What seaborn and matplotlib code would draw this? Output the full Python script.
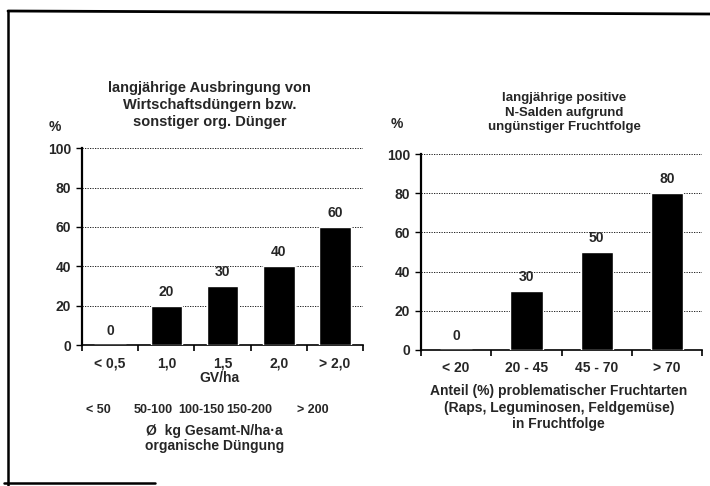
import numpy as np
import pandas as pd
import matplotlib
matplotlib.use("Agg")
import matplotlib.pyplot as plt
from matplotlib.lines import Line2D
import seaborn as sns

# left panel: manure / organic fertiliser
left_cats = ["< 0,5", "1,0", "1,5", "2,0", "> 2,0"]
left_vals = [0, 20, 30, 40, 60]
left_n_labels = ["< 50", "50-100", "100-150", "150-200", "> 200"]
left_title = "langjährige Ausbringung von\nWirtschaftsdüngern bzw.\nsonstiger org. Dünger"

# right panel: crop rotation
right_cats = ["< 20", "20 - 45", "45 - 70", "> 70"]
right_vals = [0, 30, 50, 80]
right_title = "langjährige positive\nN-Salden aufgrund\nungünstiger Fruchtfolge"
right_xlabel = "Anteil (%) problematischer Fruchtarten\n(Raps, Leguminosen, Feldgemüse)\nin Fruchtfolge"

yticks = [0, 20, 40, 60, 80, 100]

sns.set_theme(style="white")
plt.rcParams['font.family'] = ['Liberation Sans', 'DejaVu Sans']
plt.rcParams['font.weight'] = 'bold'
FS = 10

fig = plt.figure(figsize=(7.1, 4.86), dpi=100)
axL = fig.add_axes([0.1155, 0.290, 0.396, 0.405])
axR = fig.add_axes([0.593, 0.280, 0.396, 0.403])

df_left = pd.DataFrame({"cat": left_cats, "val": left_vals})
df_right = pd.DataFrame({"cat": right_cats, "val": right_vals})

sns.barplot(data=df_left, x="cat", y="val", color="black", width=0.56,
            saturation=1, ax=axL, zorder=3)
sns.barplot(data=df_right, x="cat", y="val", color="black", width=0.46,
            saturation=1, ax=axR, zorder=3)

for ax, vals, n, pct_xy in [(axL, left_vals, len(left_cats), (-0.096, 1.11)),
                            (axR, right_vals, len(right_cats), (-0.085, 1.155))]:
    ax.set_ylim(0, 100)
    ax.set_xlim(-0.5, n - 0.5)
    ax.set_yticks(yticks)
    ax.set_xlabel("")
    ax.set_ylabel("")
    ax.yaxis.grid(True, linestyle=(0, (1.5, 1.5)), color="black", linewidth=0.6)
    ax.set_axisbelow(True)
    for s in ["top", "right"]:
        ax.spines[s].set_visible(False)
    ax.spines["left"].set_color("black")
    ax.spines["left"].set_linewidth(1.6)
    ax.spines["bottom"].set_color("black")
    ax.spines["bottom"].set_linewidth(1.2)
    ax.tick_params(axis="y", left=True, length=4, width=1, color="black",
                   labelsize=FS, pad=4)
    ax.tick_params(axis="x", bottom=False, labelsize=FS, pad=2)
    ax.set_xticks(np.arange(-0.5, n), minor=True)
    ax.tick_params(axis="x", which="minor", bottom=True, length=4, width=1.2,
                   color="black")
    for lab in ax.get_xticklabels() + ax.get_yticklabels():
        lab.set_fontweight("bold")
    ax.bar_label(ax.containers[0], labels=[str(v) for v in vals], padding=5,
                 fontsize=FS, fontweight="bold")
    ax.text(pct_xy[0], pct_xy[1], "%", transform=ax.transAxes, fontsize=FS,
            fontweight="bold", ha="center", va="center")

axL.set_title(left_title, fontsize=10.5, fontweight="bold", pad=16,
              linespacing=1.27, x=0.455)
axR.set_title(right_title, fontsize=9.5, fontweight="bold", pad=17,
              linespacing=1.3, x=0.51)

axL.text(0.49, -0.165, "GV/ha", transform=axL.transAxes, ha="center",
         va="center", fontsize=FS, fontweight="bold")
n_xpos = [-0.215, 0.76, 1.62, 2.47, 3.61]
for xp, lab in zip(n_xpos, left_n_labels):
    axL.text(xp, -33, lab, ha="center", va="center", fontsize=9,
             fontweight="bold", clip_on=False)
axL.text(0.47, -0.40, "Ø  kg Gesamt-N/ha·a\norganische Düngung",
         transform=axL.transAxes, ha="center", va="top", fontsize=FS,
         fontweight="bold", linespacing=1.1)

axR.text(0.49, -0.175, right_xlabel, transform=axR.transAxes, ha="center",
         va="top", fontsize=FS, fontweight="bold", linespacing=1.22)

# scanned frame lines
W, H = 710, 486
fig.add_artist(Line2D([8 / W, 1.0], [1 - 11 / H, 1 - 14 / H], color="black",
                      linewidth=2, transform=fig.transFigure))
fig.add_artist(Line2D([8 / W, 8 / W], [1 - 11 / H, 0], color="black",
                      linewidth=1.8, transform=fig.transFigure))
fig.add_artist(Line2D([4 / W, 155 / W], [1 - 483 / H, 1 - 483 / H],
                      color="black", linewidth=1.8, transform=fig.transFigure))

fig.savefig("out.png", dpi=100, facecolor="white")
